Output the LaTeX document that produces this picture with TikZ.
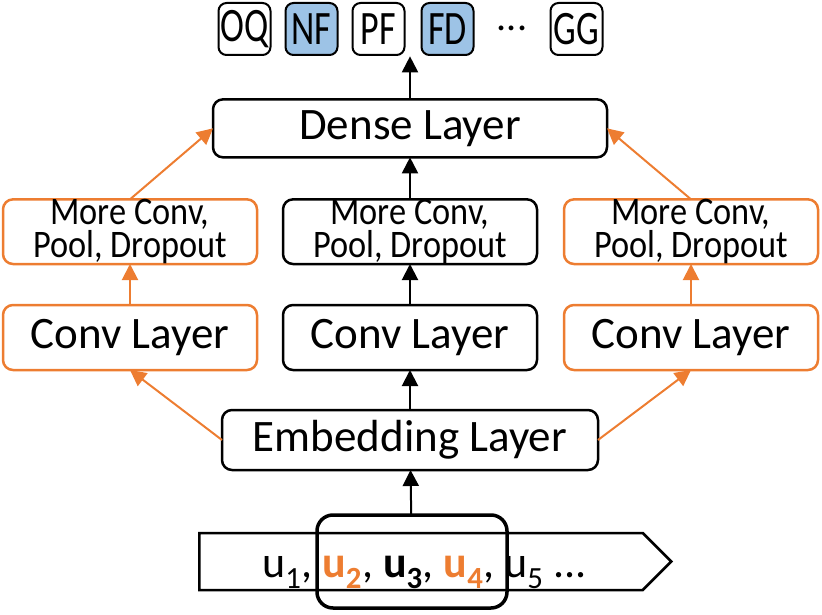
\documentclass[tikz,border=0pt]{standalone}
\usepackage{fontspec}
\setmainfont{Carlito}
\newfontfamily\narrowfont[FakeStretch=0.88]{Carlito}
\newfontfamily\tagfont[FakeStretch=0.75]{Carlito}
\definecolor{orange}{RGB}{237,125,49}
\definecolor{tagblue}{RGB}{157,195,230}
\usetikzlibrary{calc,arrows.meta,positioning,shapes.symbols}
\tikzset{
	layer/.style={
		draw, line width=2.5pt, rounded corners=10pt,
		minimum width=254pt, minimum height=65pt,
		inner sep=0pt, outer sep=0pt, text=black,
		font=\fontsize{45}{50}\selectfont
	},
	morebox/.style={
		layer, align=center, minimum height=64pt,
		font=\narrowfont\fontsize{39}{29}\selectfont
	},
	side/.style={draw=orange},
	tag/.style={
		draw, line width=2pt, rounded corners=8pt,
		minimum size=52pt, inner sep=0pt, outer sep=0pt,
		font=\tagfont\fontsize{48}{48}\selectfont
	},
	up/.style={-{Triangle[length=16pt,width=16pt]}, line width=2pt},
	sideup/.style={up, color=orange}
}
\begin{document}
\begin{tikzpicture}[x=1pt,y=1pt]
	\useasboundingbox (0,0) rectangle (822,-615);
	% input sequence and window
	\node[signal, signal to=east, draw, line width=2.5pt, anchor=west,
		minimum width=472pt, minimum height=57pt, inner sep=0pt] (seqbox) at (198,-561.5) {};
	\node[font=\fontsize{44}{44}\selectfont, inner sep=0pt, anchor=base west] (seq) at (262,-577)
		{u\textsubscript{1}, \textbf{\color{orange}u\textsubscript{2}}, \textbf{u\textsubscript{3}}, \textbf{\color{orange}u\textsubscript{4}}, u\textsubscript{5} ...};
	\node[draw, line width=3.5pt, rounded corners=16pt, outer sep=0pt,
		minimum width=190pt, minimum height=93pt] (window) at (412,-561.5) {};
	% layers
	\node[layer, minimum width=376pt, minimum height=60pt] (embed) at (410,-440) {Embedding Layer};
	\node[layer] (convM) [above=40pt of embed] {Conv Layer};
	\node[morebox] (moreM) [above=41pt of convM] {More Conv,\\Pool, Dropout};
	\node[layer, minimum width=394pt, minimum height=58pt] (dense) [above=42pt of moreM] {Dense Layer};
	\node[layer, side] (convL) [left=26pt of convM] {Conv Layer};
	\node[layer, side] (convR) [right=27pt of convM] {Conv Layer};
	\node[morebox, side] (moreL) [left=26pt of moreM] {More Conv,\\Pool, Dropout};
	\node[morebox, side] (moreR) [right=27pt of moreM] {More Conv,\\Pool, Dropout};
	% output tags
	\node[tag] (PF) at (378.5,-29) {PF};
	\node[tag, fill=tagblue] (NF) [left=15pt of PF] {NF};
	\node[tag] (OQ) [left=15pt of NF] {OQ};
	\node[tag, fill=tagblue] (FD) [right=17pt of PF] {FD};
	\node[tag] (GG) [right=77pt of FD] {GG};
	\node[font=\fontsize{40}{40}\selectfont, inner sep=0pt, anchor=base] (dots) at ($(FD)!0.5!(GG)+(0,-2)$) {...};
	\coordinate (outp) at ($(dense.north)+(0,43)$);
	% connectors
	\draw[up] (window) -- (embed);
	\draw[up] (embed) -- (convM);
	\draw[up] (convM) -- (moreM);
	\draw[up] (moreM) -- (dense);
	\draw[up] (dense) -- (outp);
	\draw[sideup] (embed.west) -- (convL.south);
	\draw[sideup] (embed.east) -- (convR.south);
	\draw[sideup] (convL) -- (moreL);
	\draw[sideup] (convR) -- (moreR);
	\draw[sideup] (moreL.north) -- (dense.west);
	\draw[sideup] (moreR.north) -- (dense.east);
\end{tikzpicture}
\end{document}
